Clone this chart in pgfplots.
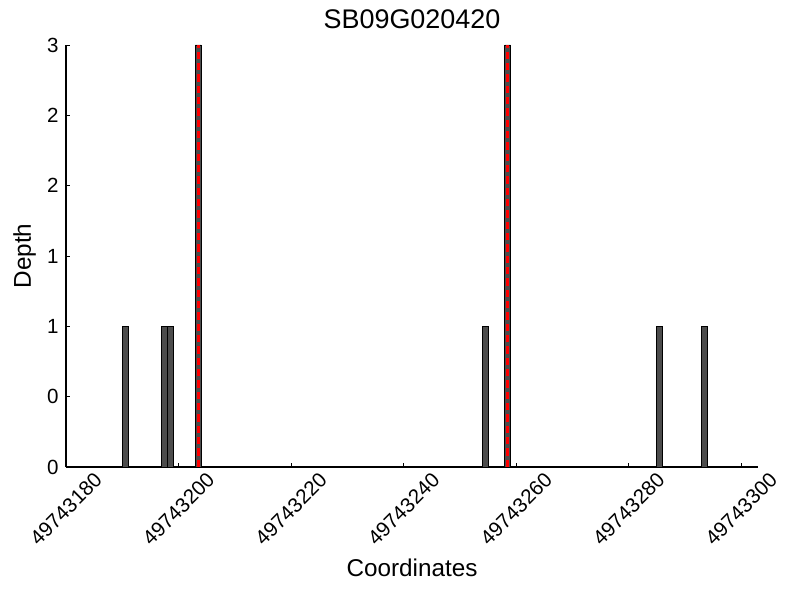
\documentclass[border=0pt]{standalone}
\usepackage{pgfplots}
\pgfplotsset{compat=1.18}
\usepackage{fontspec}
\setmainfont{Liberation Sans}
\begin{document}
\begin{tikzpicture}
\useasboundingbox (-49.5pt,-99.75pt) rectangle (550.5pt,350.25pt);
\begin{axis}[
  at={(0,0)}, anchor=south west,
  scale only axis,
  width=519pt, height=316.5pt,
  xmin=180, xmax=303, ymin=0, ymax=3,
  axis x line*=bottom, axis y line*=left,
  axis line style={line width=0.9pt},
  tick align=inside, major tick length=3pt,
  tick style={black, line width=0.6pt},
  xtick={180,200,220,240,260,280,300},
  xticklabels={49743180,49743200,49743220,49743240,49743260,49743280,49743300},
  ytick={0,0.5,1,1.5,2,2.5,3},
  yticklabels={0,0,1,1,2,2,3},
  tick label style={font=\fontsize{15.4}{18}\selectfont},
  xticklabel style={yshift=-31.5pt, rotate=45, anchor=center},
  yticklabel style={anchor=east, xshift=-2pt},
  xlabel={Coordinates}, ylabel={Depth},
  label style={font=\fontsize{18.2}{21}\selectfont},
  xlabel style={at={(axis description cs:0.5,0)}, anchor=center, yshift=-75.75pt},
  ylabel style={at={(axis description cs:0,0.5)}, anchor=center, yshift=31pt},
  title={SB09G020420},
  title style={at={(axis description cs:0.5,1)}, anchor=center, yshift=13.5pt, font=\fontsize{20.2}{24}\selectfont},
  clip=false,
]
\addplot[ybar, bar width=1, fill=black!70, draw=black, line width=0.5pt] coordinates {
  (190.5,1) (197.5,1) (198.5,1) (203.5,3) (254.5,1) (258.5,3) (285.5,1) (293.5,1)
};
\addplot[red, line width=2pt, dash pattern=on 5.5pt off 3pt] coordinates {(203.5,0) (203.5,3)};
\addplot[red, line width=2pt, dash pattern=on 5.5pt off 3pt] coordinates {(258.5,0) (258.5,3)};
\end{axis}
\end{tikzpicture}
\end{document}
